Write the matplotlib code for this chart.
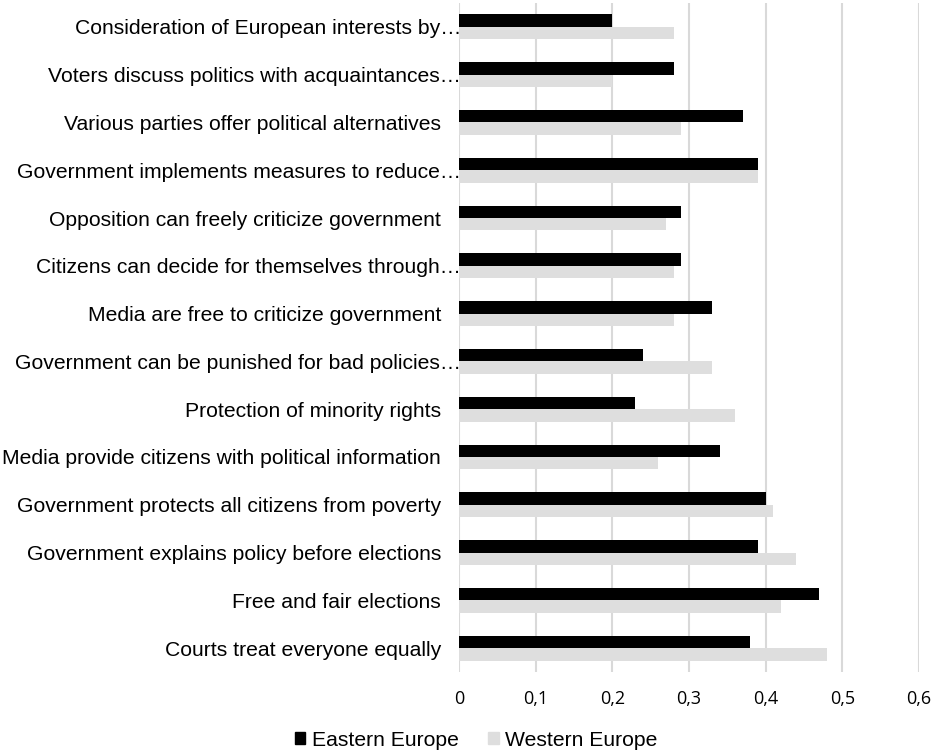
import matplotlib
matplotlib.use("Agg")
import matplotlib.pyplot as plt
import matplotlib.transforms as mtransforms
from matplotlib.patches import Patch
import numpy as np

categories = [
    "Consideration of European interests by\u2026",
    "Voters discuss politics with acquaintances\u2026",
    "Various parties offer political alternatives",
    "Government implements measures to reduce\u2026",
    "Opposition can freely criticize government",
    "Citizens can decide for themselves through\u2026",
    "Media are free to criticize government",
    "Government can be punished for bad policies\u2026",
    "Protection of minority rights",
    "Media provide citizens with political information",
    "Government protects all citizens from poverty",
    "Government explains policy before elections",
    "Free and fair elections",
    "Courts treat everyone equally",
]
eastern = [0.20, 0.28, 0.37, 0.39, 0.29, 0.29, 0.33, 0.24, 0.23, 0.34, 0.40, 0.39, 0.47, 0.38]
western = [0.28, 0.20, 0.29, 0.39, 0.27, 0.28, 0.28, 0.33, 0.36, 0.26, 0.41, 0.44, 0.42, 0.48]
xticks = [0, 0.1, 0.2, 0.3, 0.4, 0.5, 0.6]
xticklabels = ["0", "0,1", "0,2", "0,3", "0,4", "0,5", "0,6"]

black = "#000000"
grey = "#dedede"

fig = plt.figure(figsize=(9.35, 7.54), dpi=100)
ax = fig.add_axes([459 / 935, 1 - 672 / 754, (919 - 459) / 935, (672 - 3) / 754])

y = np.arange(len(categories))
h = 0.26
ax.barh(y - h / 2, eastern, height=h, color=black, label="Eastern Europe", zorder=3)
ax.barh(y + h / 2, western, height=h, color=grey, label="Western Europe", zorder=3)

ax.set_xlim(0, 0.6)
ax.set_ylim(len(categories) - 0.5, -0.5)
ax.set_xticks(xticks)
ax.set_xticklabels(xticklabels, fontsize=13, family="Open Sans")
ax.set_yticks(y)
ax.set_yticklabels(categories, fontsize=15.2, family="Liberation Sans")
ax.tick_params(axis="both", length=0)
ax.tick_params(axis="y", pad=13)
ax.tick_params(axis="x", pad=13)

# truncated labels run up to the axis
for lab in ax.get_yticklabels():
    if lab.get_text().endswith("\u2026"):
        off = mtransforms.ScaledTranslation(0.2, 0, fig.dpi_scale_trans)
        lab.set_transform(lab.get_transform() + off)

ax.grid(axis="x", color="#d9d9d9", linewidth=1.5, zorder=0)
for s in ax.spines.values():
    s.set_visible(False)

handles = [Patch(color=black), Patch(color=grey)]
fig.legend(handles, ["Eastern Europe", "Western Europe"], loc="center",
           bbox_to_anchor=(476 / 935, 1 - 740 / 754), ncol=2, frameon=False,
           prop={"family": "Liberation Sans", "size": 15.2},
           handlelength=0.5, handleheight=0.5, handletextpad=0.3, columnspacing=1.4)

fig.savefig("out.png", dpi=100)
